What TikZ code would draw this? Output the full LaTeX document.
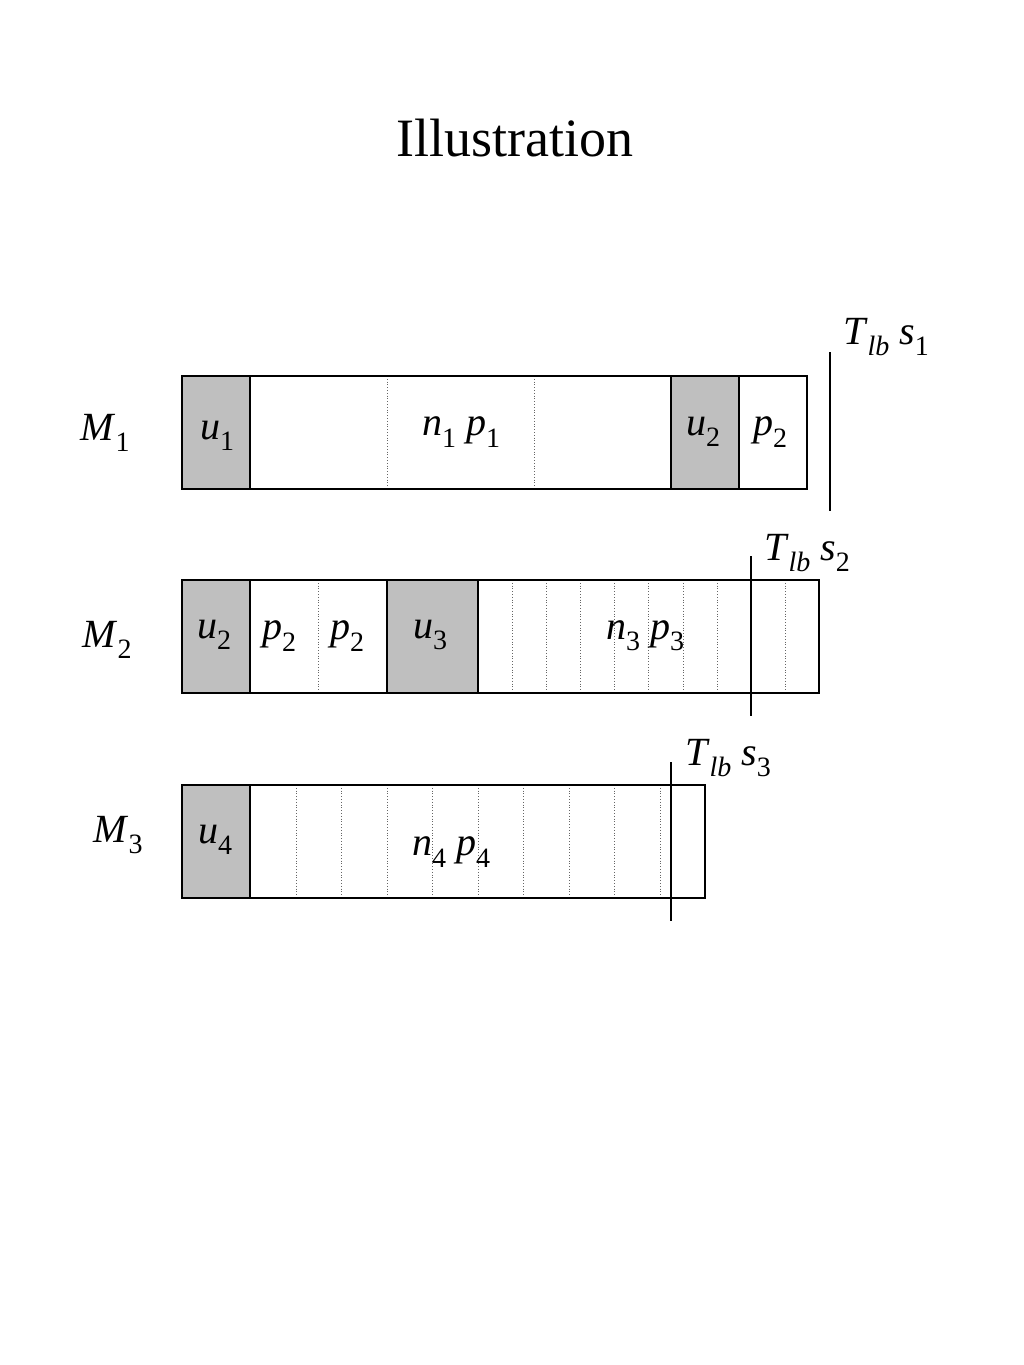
\documentclass[tikz,border=0pt]{standalone}
\usepackage{fontspec}
\setmainfont{Liberation Serif}
\usepackage{xcolor}
\newcommand{\lowsub}[1]{\raisebox{-0.28em}{\fontsize{28}{30}\selectfont\upshape #1}}
\newcommand{\var}[2]{\textit{#1}\lowsub{#2}}
\colorlet{cell edge}{black}
\colorlet{idle area}{black!25}
\tikzset{idle/.style={fill=idle area, draw=cell edge, line width=1.8pt},
    outline/.style={draw=cell edge, line width=1.3pt},
    unit/.style={draw=black!60, dotted, line width=0.8pt},
    bound/.style={draw=black, line width=1.4pt},
    lbl/.style={font=\fontsize{40}{48}\selectfont, inner sep=0pt}}

\begin{document}
\begin{tikzpicture}[x=1pt,y=-1pt]
    \useasboundingbox (0,0) rectangle (1024,1365);
    \node[font=\fontsize{54}{64}\selectfont] (title) at (515,138) {Illustration};
    % machine 1
    \foreach \x in {387,534} \draw[unit] (\x,376) -- (\x,489);
    \draw[outline] (182,376) rectangle (807,489);
    \fill[idle] (182,376) rectangle (250,489);
    \fill[idle] (671,376) rectangle (739,489);
    \coordinate (b1top) at (830,352);
    \coordinate (b1bot) at (830,511);
    \draw[bound] (b1top) -- (b1bot);
    \node[lbl] (m1)  at (105,433) {\var{M}{1}};
    \node[lbl] (u1)  at (217,436) {\var{u}{1}};
    \node[lbl] (np1) at (461,432) {\var{n}{1} \var{p}{1}};
    \node[lbl] (u2a) at (703,432) {\var{u}{2}};
    \node[lbl] (p2a) at (770,432) {\var{p}{2}};
    \node[lbl] (t1)  at (886,337) {\var{T}{\itshape lb} \var{s}{1}};
    % machine 2
    \foreach \x in {318,512,546,580,614,648,683,717,785} \draw[unit] (\x,580) -- (\x,693);
    \draw[outline] (182,580) rectangle (819,693);
    \fill[idle] (182,580) rectangle (250,693);
    \fill[idle] (387,580) rectangle (478,693);
    \coordinate (b2top) at (751,556);
    \coordinate (b2bot) at (751,716);
    \draw[bound] (b2top) -- (b2bot);
    \node[lbl] (m2)  at (107,640) {\var{M}{2}};
    \node[lbl] (u2b) at (214,635) {\var{u}{2}};
    \node[lbl] (p2b) at (279,636) {\var{p}{2}};
    \node[lbl] (p2c) at (347,636) {\var{p}{2}};
    \node[lbl] (u3)  at (430,635) {\var{u}{3}};
    \node[lbl] (np3) at (645,636) {\var{n}{3} \var{p}{3}};
    \node[lbl] (t2)  at (807,553) {\var{T}{\itshape lb} \var{s}{2}};
    % machine 3
    \foreach \x in {296,341,387,432,478,523,569,614,660} \draw[unit] (\x,785) -- (\x,898);
    \draw[outline] (182,785) rectangle (705,898);
    \fill[idle] (182,785) rectangle (250,898);
    \coordinate (b3top) at (671,762);
    \coordinate (b3bot) at (671,921);
    \draw[bound] (b3top) -- (b3bot);
    \node[lbl] (m3)  at (118,835) {\var{M}{3}};
    \node[lbl] (u4)  at (215,840) {\var{u}{4}};
    \node[lbl] (np4) at (451,852) {\var{n}{4} \var{p}{4}};
    \node[lbl] (t3)  at (728,758) {\var{T}{\itshape lb} \var{s}{3}};
\end{tikzpicture}
\end{document}
